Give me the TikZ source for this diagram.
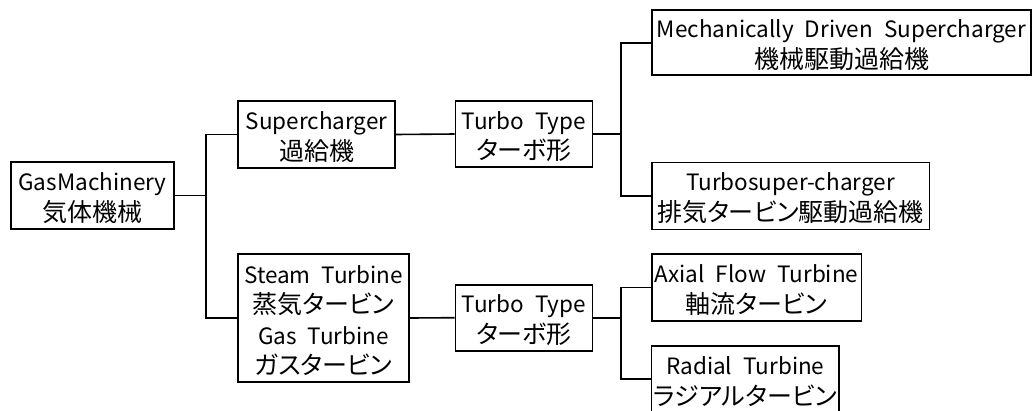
\documentclass[tikz,border=0pt]{standalone}
\usepackage{fontspec}
\newfontfamily\jpfont[RawFeature=+palt]{Noto Sans CJK JP}
\newfontfamily\enfont[WordSpace=2.2]{Noto Sans CJK JP}
\newcommand*{\en}{\enfont\fontsize{22.5}{30.5}\selectfont\rule{0pt}{23pt}}

\begin{document}
\begin{tikzpicture}
[
	x=1pt,y=-1pt,
	box/.style={draw,line width=1.6pt,inner sep=0pt,align=center,
		font=\jpfont\fontsize{25}{30.5}\selectfont},
	link/.style={line width=1.6pt}
]

	\useasboundingbox (0,0) rectangle (1032,410);

	% boxes
	\node[box,minimum width=163pt,minimum height=67pt] (gas) at (92.5,195.5) {{\en GasMachinery}\\気体機械};
	\node[box,minimum width=157pt,minimum height=67pt] (sup) at (316.5,134.5) {{\en Supercharger}\\過給機};
	\node[box,minimum width=171pt,minimum height=128pt] (steam) at (323.5,318) {{\en Steam Turbine}\\蒸気タービン\\{\en Gas Turbine}\\ガスタービン};
	\node[box,minimum width=137pt,minimum height=66pt] (turboa) at (524,134) {{\en Turbo Type}\\ターボ形};
	\node[box,minimum width=137pt,minimum height=66pt] (turbob) at (524,317.7) {{\en Turbo Type}\\ターボ形};
	\node[box,minimum width=379pt,minimum height=65pt] (mech) at (841.5,42.7) {{\en Mechanically Driven Supercharger}\\機械駆動過給機};
	\node[box,minimum width=277.6pt,minimum height=67pt] (tsup) at (790.5,195.8) {{\en Turbosuper-charger}\\排気タービン駆動過給機};
	\node[box,minimum width=209.6pt,minimum height=67pt] (axial) at (756.5,287.6) {{\en Axial Flow Turbine}\\軸流タービン};
	\node[box,minimum width=187.3pt,minimum height=66pt] (radial) at (745.3,379) {{\en Radial Turbine}\\ラジアルタービン};

	% connectors
	\coordinate (ja) at (206,195.5);
	\coordinate (jb) at (621,134);
	\coordinate (jc) at (621,317.7);
	\draw[link] (gas.east) -- (ja);
	\draw[link] (sup.west) -| (ja) |- (steam.west);
	\draw[link] (sup.east) -- (turboa.west);
	\draw[link] (steam.east) -- (turbob.west);
	\draw[link] (turboa.east) -- (jb);
	\draw[link] (mech.west) -| (jb) |- (tsup.west);
	\draw[link] (turbob.east) -- (jc);
	\draw[link] (axial.west) -| (jc) |- (radial.west);

\end{tikzpicture}
\end{document}
